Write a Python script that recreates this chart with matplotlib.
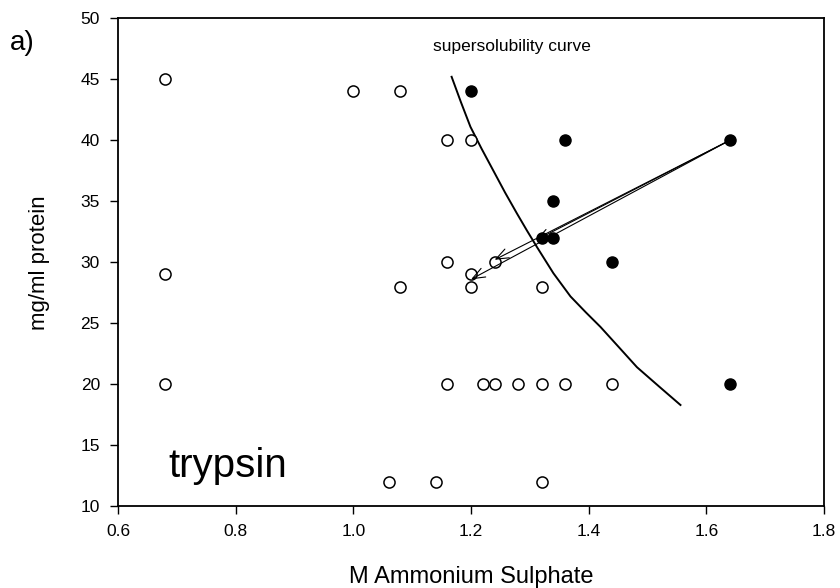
import numpy as np
import matplotlib.pyplot as plt

plt.rcParams['font.family'] = ['Liberation Sans', 'DejaVu Sans']

# open circles: below supersolubility
open_x = [0.68, 0.68, 0.68, 1.00, 1.08, 1.16, 1.20, 1.16, 1.20, 1.20, 1.08, 1.32, 1.24,
          1.16, 1.22, 1.24, 1.28, 1.32, 1.36, 1.44, 1.06, 1.14, 1.32]
open_y = [45, 29, 20, 44, 44, 40, 40, 30, 29, 28, 28, 28, 30,
          20, 20, 20, 20, 20, 20, 20, 12, 12, 12]

# filled circles: above supersolubility
fill_x = [1.20, 1.36, 1.64, 1.34, 1.32, 1.34, 1.44, 1.64]
fill_y = [44, 40, 40, 35, 32, 32, 30, 20]

# supersolubility curve (traced)
curve_x = [1.167, 1.183, 1.199, 1.218, 1.238, 1.258, 1.278, 1.295, 1.312, 1.340,
           1.369, 1.395, 1.420, 1.452, 1.482, 1.520, 1.556]
curve_y = [45.2, 43.1, 41.1, 39.3, 37.5, 35.7, 34.0, 32.6, 31.25, 29.1,
           27.2, 25.9, 24.7, 23.0, 21.4, 19.8, 18.3]

# arrows (start -> end)
arrow_start = [(1.64, 40.0), (1.64, 40.0), (1.64, 40.0)]
arrow_end = [(1.31, 31.8), (1.24, 30.2), (1.20, 28.6)]

fig = plt.figure(figsize=(8.4, 5.88), dpi=100)
ax = fig.add_axes([0.1405, 0.139, 0.8405, 0.830])

ax.plot(curve_x, curve_y, color='black', lw=1.4)

for (x0, y0), (x1, y1) in zip(arrow_start, arrow_end):
    ax.annotate('', xy=(x1, y1), xytext=(x0, y0),
                arrowprops=dict(arrowstyle='->,head_length=0.9,head_width=0.35',
                                color='black', lw=0.8, shrinkA=0, shrinkB=0))

ax.plot(open_x, open_y, 'o', mfc='white', mec='black', ms=8, mew=1.1, ls='none')
ax.plot(fill_x, fill_y, 'o', mfc='black', mec='black', ms=8, ls='none')

ax.text(1.27, 47.7, 'supersolubility curve', fontsize=12.5, ha='center', va='center')
ax.text(0.685, 13.3, 'trypsin', fontsize=29, ha='left', va='center')
fig.text(0.012, 0.915, 'a)', fontsize=20)

ax.set_xlim(0.6, 1.8)
ax.set_ylim(10, 50)
ax.set_xticks([0.6, 0.8, 1.0, 1.2, 1.4, 1.6, 1.8])
ax.set_xticklabels(['0.6', '0.8', '1.0', '1.2', '1.4', '1.6', '1.8'])
ax.set_yticks(range(10, 51, 5))
ax.tick_params(direction='out', length=6, width=1, labelsize=12.5, pad=7)
for s in ax.spines.values():
    s.set_linewidth(1.3)

ax.set_xlabel('M Ammonium Sulphate', fontsize=17, labelpad=19)
ax.set_ylabel('mg/ml protein', fontsize=16, labelpad=22)

fig.savefig('out.png', dpi=100)
